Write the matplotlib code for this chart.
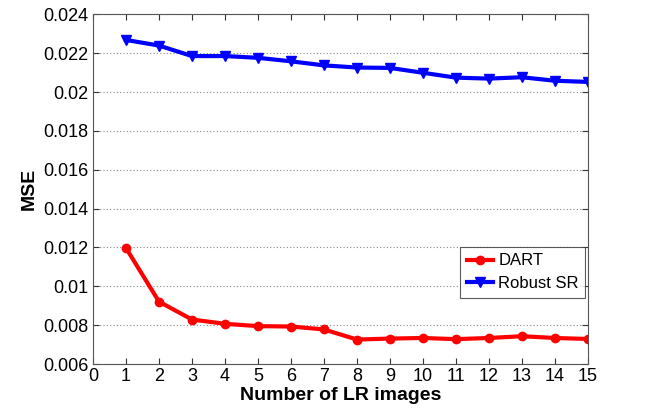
import matplotlib
matplotlib.use("Agg")
import matplotlib.pyplot as plt

plt.rcParams['font.family'] = ['Liberation Sans', 'DejaVu Sans']

n_images = list(range(1, 16))
dart = [0.01197, 0.00921, 0.00829, 0.00807, 0.00795, 0.00793, 0.00778, 0.00726,
        0.00731, 0.00734, 0.00728, 0.00734, 0.00743, 0.00734, 0.00729]
robust_sr = [0.02268, 0.02239, 0.02185, 0.02185, 0.02176, 0.02158, 0.02137, 0.02126,
             0.02124, 0.02099, 0.02074, 0.02069, 0.02076, 0.02058, 0.02052]
xticks = list(range(0, 16))
yticks = [0.006, 0.008, 0.010, 0.012, 0.014, 0.016, 0.018, 0.020, 0.022, 0.024]
ytick_labels = ['0.006', '0.008', '0.01', '0.012', '0.014', '0.016', '0.018', '0.02', '0.022', '0.024']

fig = plt.figure(figsize=(6.62, 4.13), dpi=100)
ax = fig.add_axes([0.1405, 0.1186, 0.888 - 0.1405, 0.9654 - 0.1186])

ax.plot(n_images, dart, color='#ff0000', lw=3, marker='o', ms=6, label='DART')
ax.plot(n_images, robust_sr, color='#0000ff', lw=3, marker='v', ms=7, label='Robust SR')

ax.set_xlim(0, 15)
ax.set_ylim(0.006, 0.024)
ax.set_xticks(xticks)
ax.set_yticks(yticks)
ax.set_yticklabels(ytick_labels)
ax.tick_params(direction='in', top=True, right=True, labelsize=13, length=4,
               color='#333333', pad=3)
ax.yaxis.grid(True, linestyle=(0, (1, 2)), color='#888888', lw=0.8)
for s in ax.spines.values():
    s.set_color('#555555')
    s.set_linewidth(0.8)

ax.set_xlabel('Number of LR images', fontsize=14, fontweight='bold', labelpad=1)
ax.set_ylabel('MSE', fontsize=14, fontweight='bold', labelpad=4)

leg = ax.legend(loc='lower right', bbox_to_anchor=(0.995, 0.19), fontsize=12,
                frameon=True, fancybox=False, handlelength=1.6, borderpad=0.4,
                labelspacing=0.45, handletextpad=0.3, borderaxespad=0)
leg.get_frame().set_edgecolor('#333333')
leg.get_frame().set_linewidth(0.8)

fig.savefig('out.png', dpi=100)
